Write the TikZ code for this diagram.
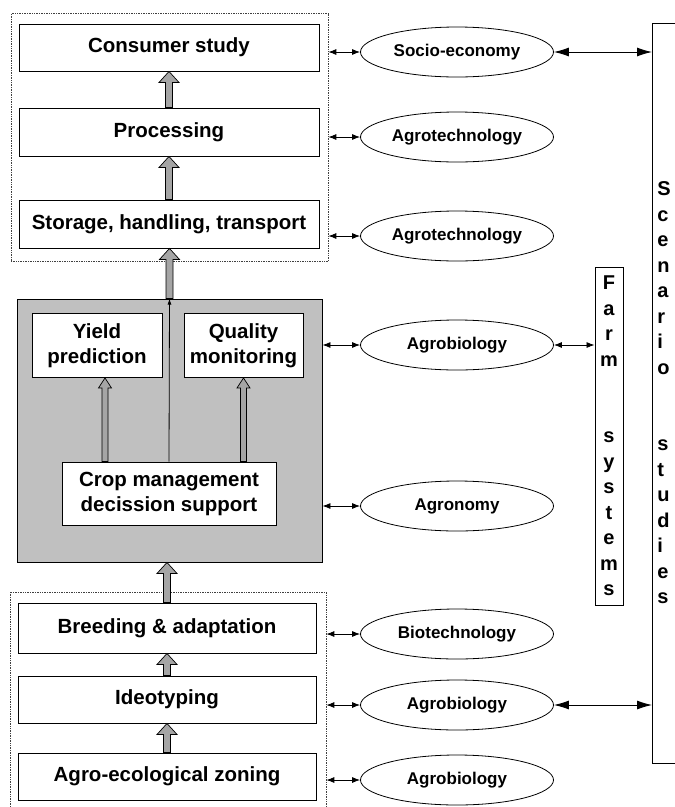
\documentclass[tikz,border=0pt]{standalone}
\usepackage{fontspec}
\setmainfont{Liberation Sans}
\usetikzlibrary{arrows.meta,positioning,shapes.geometric,calc}
\definecolor{blockgray}{RGB}{192,192,192}
\definecolor{shaftgray}{RGB}{165,165,165}

\begin{document}
\begin{tikzpicture}[x=1pt,y=-1pt,
  font=\bfseries\fontsize{20.5}{25}\selectfont,
  box/.style={draw,line width=0.9pt,fill=white,align=center,inner sep=0pt,
              minimum width=300pt,minimum height=47pt},
  frm/.style={draw=black!75,densely dotted,line width=0.7pt,inner sep=0pt},
  disc/.style={draw,ellipse,line width=0.8pt,inner sep=0pt,minimum width=193pt,
               minimum height=50pt,font=\bfseries\fontsize{17}{20}\selectfont},
  col/.style={draw,line width=0.9pt,inner sep=0pt,font=\bfseries\fontsize{20}{25.5}\selectfont},
  link/.style={{Latex[length=8pt,width=6pt]}-{Latex[length=8pt,width=6pt]},line width=0.8pt},
  wide/.style={{Latex[length=15pt,width=9pt]}-{Latex[length=15pt,width=9pt]},line width=0.9pt},
  hollow/.style={draw=black,fill=shaftgray,line width=0.7pt,
    to path={let \p1=(\tikztostart),\p2=(\tikztotarget) in
      (\x1-3.5pt,\y1) -- (\x1-3.5pt,\y2-11pt) -- (\x1-10pt,\y2-11pt) -- (\x1,\y2)
      -- (\x1+10pt,\y2-11pt) -- (\x1+3.5pt,\y2-11pt) -- (\x1+3.5pt,\y1) -- cycle}},
  thin/.style={draw=black,fill=shaftgray,line width=0.7pt,
    to path={let \p1=(\tikztostart),\p2=(\tikztotarget) in
      (\x1-3pt,\y1) -- (\x1-3pt,\y2-10pt) -- (\x1-6.5pt,\y2-10pt) -- (\x1,\y2)
      -- (\x1+6.5pt,\y2-10pt) -- (\x1+3pt,\y2-10pt) -- (\x1+3pt,\y1) -- cycle}}
]
\useasboundingbox (0,0) rectangle (675,807);

% dotted groups and shaded block
\node[frm,minimum width=317pt,minimum height=248pt] (topfr) at (169.5,137.5) {};
\node[frm,minimum width=316pt,minimum height=225pt] (botfr) at (168,704.5) {};
\node[draw,line width=0.9pt,fill=blockgray,inner sep=0pt,
      minimum width=305pt,minimum height=263pt] (mgmt) at (169.5,430.5) {};

% chain boxes
\node[box] (cons) at (169,47.5) {Consumer study};
\node[box,minimum height=48pt] (proc) at (169,132) {Processing};
\node[box,minimum height=48pt] (stor) at (169,224) {Storage, handling, transport};
\node[box,minimum width=130pt,minimum height=64pt] (yield) at (97,345.5) {Yield\\prediction};
\node[box,minimum width=119pt,minimum height=64pt] (qual) at (243.5,345.5) {Quality\\monitoring};
\node[box,minimum width=214pt,minimum height=63pt] (crop) at (169,493.5) {Crop management\\decission support};
\node[box,minimum width=298pt,minimum height=50pt] (brd) at (167,628) {Breeding \& adaptation};
\node[box,minimum width=298pt] (ideo) at (167,699.5) {Ideotyping};
\node[box,minimum width=298pt] (zone) at (167,776.5) {Agro-ecological zoning};

% disciplines
\node[disc] (e1) at (457,52) {Socio-economy};
\node[disc] (e2) at (457,137) {Agrotechnology};
\node[disc] (e3) at (457,236) {Agrotechnology};
\node[disc] (e4) at (457,345) {Agrobiology};
\node[disc] (e5) at (457,506) {Agronomy};
\node[disc] (e6) at (457,634) {Biotechnology};
\node[disc] (e7) at (457,705) {Agrobiology};
\node[disc] (e8) at (457,780) {Agrobiology};

% side columns
\node[col,minimum width=28pt,minimum height=338pt,align=center] (farm) at (609,436)
  {F\\a\\r\\m\\[51pt]s\\y\\s\\t\\e\\m\\s};
\node[col,anchor=west,text width=30pt,inner xsep=5pt,minimum height=740pt,align=left] (scen) at (652,393)
  {S\\c\\e\\n\\a\\r\\i\\o\\[51pt]s\\t\\u\\d\\i\\e\\s};

% flow arrows
\path[hollow] (proc.north) to (cons.south);
\path[hollow] (stor.north) to (proc.south);
\path[hollow] (mgmt.north) to (stor.south);
\path[hollow] (brd.north) to (mgmt.south);
\path[hollow] (ideo.north) to (brd.south);
\path[hollow] (zone.north) to (ideo.south);
\coordinate (yarr) at ([xshift=8pt]yield.south);
\path[thin] (yarr |- crop.north) to (yarr);
\path[thin] (qual.south |- crop.north) to (qual.south);
\draw[-{Latex[length=6pt,width=4pt]},line width=0.8pt] (crop.north) -- (mgmt.north);

% links to disciplines
\draw[link] (e1 -| topfr.east) -- (e1);
\draw[link] (e2 -| topfr.east) -- (e2);
\draw[link] (e3 -| topfr.east) -- (e3);
\draw[link] (e4 -| mgmt.east) -- (e4);
\draw[link] (e5 -| mgmt.east) -- (e5);
\draw[link] (e6 -| botfr.east) -- (e6);
\draw[link] (e7 -| botfr.east) -- (e7);
\draw[link] (e8 -| botfr.east) -- (e8);
\draw[wide] (e1) -- (e1 -| scen.west);
\draw[link] (e4) -- (e4 -| farm.west);
\draw[wide] (e7) -- (e7 -| scen.west);
\end{tikzpicture}
\end{document}
